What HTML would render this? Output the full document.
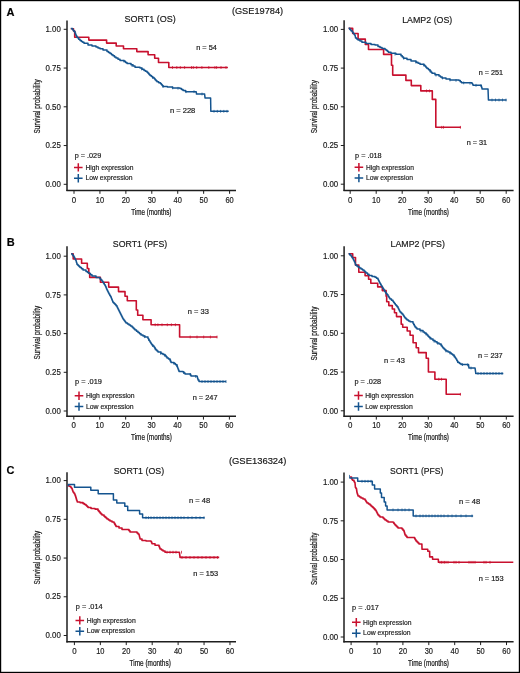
<!DOCTYPE html>
<html><head><meta charset="utf-8"><style>
html,body{margin:0;padding:0;background:#fff;}
body{width:520px;height:673px;overflow:hidden;}
svg{display:block;font-family:"Liberation Sans", sans-serif;will-change:transform;}
text{stroke:#1a1a1a;stroke-width:0.18px;}
.ax{stroke-width:0.24px;}
</style></head><body>
<svg width="520" height="673" viewBox="0 0 520 673">
<rect x="0" y="0" width="520" height="673" fill="#fff"/>
<text x="6.6" y="15.9" font-size="11" text-anchor="start" font-weight="bold" fill="#000">A</text>
<text x="6.8" y="245.8" font-size="11" text-anchor="start" font-weight="bold" fill="#000">B</text>
<text x="6.6" y="473.8" font-size="11" text-anchor="start" font-weight="bold" fill="#000">C</text>
<text x="231.9" y="13.9" font-size="9" text-anchor="start" font-weight="normal" fill="#1a1a1a" textLength="51.2" lengthAdjust="spacingAndGlyphs">(GSE19784)</text>
<text x="228.9" y="464.2" font-size="9" text-anchor="start" font-weight="normal" fill="#1a1a1a" textLength="57.6" lengthAdjust="spacingAndGlyphs">(GSE136324)</text>
<line x1="67" y1="20.6" x2="67" y2="191.1" stroke="#1e1e1e" stroke-width="1.5"/>
<line x1="66.4" y1="190.5" x2="236" y2="190.5" stroke="#1e1e1e" stroke-width="1.5"/>
<line x1="63.7" y1="29.3" x2="67" y2="29.3" stroke="#1e1e1e" stroke-width="1.0"/>
<text x="60.8" y="32.0" font-size="8.7" text-anchor="end" font-weight="normal" fill="#1a1a1a" textLength="15.3" lengthAdjust="spacingAndGlyphs">1.00</text>
<line x1="63.7" y1="68.05" x2="67" y2="68.05" stroke="#1e1e1e" stroke-width="1.0"/>
<text x="60.8" y="70.75" font-size="8.7" text-anchor="end" font-weight="normal" fill="#1a1a1a" textLength="15.3" lengthAdjust="spacingAndGlyphs">0.75</text>
<line x1="63.7" y1="106.8" x2="67" y2="106.8" stroke="#1e1e1e" stroke-width="1.0"/>
<text x="60.8" y="109.5" font-size="8.7" text-anchor="end" font-weight="normal" fill="#1a1a1a" textLength="15.3" lengthAdjust="spacingAndGlyphs">0.50</text>
<line x1="63.7" y1="145.55" x2="67" y2="145.55" stroke="#1e1e1e" stroke-width="1.0"/>
<text x="60.8" y="148.25" font-size="8.7" text-anchor="end" font-weight="normal" fill="#1a1a1a" textLength="15.3" lengthAdjust="spacingAndGlyphs">0.25</text>
<line x1="63.7" y1="184.3" x2="67" y2="184.3" stroke="#1e1e1e" stroke-width="1.0"/>
<text x="60.8" y="187.0" font-size="8.7" text-anchor="end" font-weight="normal" fill="#1a1a1a" textLength="15.3" lengthAdjust="spacingAndGlyphs">0.00</text>
<line x1="74.0" y1="190.5" x2="74.0" y2="193.8" stroke="#1e1e1e" stroke-width="1.0"/>
<text x="74.0" y="202.5" font-size="8.6" text-anchor="middle" font-weight="normal" fill="#1a1a1a" textLength="4.4" lengthAdjust="spacingAndGlyphs">0</text>
<line x1="99.93" y1="190.5" x2="99.93" y2="193.8" stroke="#1e1e1e" stroke-width="1.0"/>
<text x="99.93" y="202.5" font-size="8.6" text-anchor="middle" font-weight="normal" fill="#1a1a1a" textLength="8.3" lengthAdjust="spacingAndGlyphs">10</text>
<line x1="125.86" y1="190.5" x2="125.86" y2="193.8" stroke="#1e1e1e" stroke-width="1.0"/>
<text x="125.86" y="202.5" font-size="8.6" text-anchor="middle" font-weight="normal" fill="#1a1a1a" textLength="8.3" lengthAdjust="spacingAndGlyphs">20</text>
<line x1="151.79" y1="190.5" x2="151.79" y2="193.8" stroke="#1e1e1e" stroke-width="1.0"/>
<text x="151.79" y="202.5" font-size="8.6" text-anchor="middle" font-weight="normal" fill="#1a1a1a" textLength="8.3" lengthAdjust="spacingAndGlyphs">30</text>
<line x1="177.72" y1="190.5" x2="177.72" y2="193.8" stroke="#1e1e1e" stroke-width="1.0"/>
<text x="177.72" y="202.5" font-size="8.6" text-anchor="middle" font-weight="normal" fill="#1a1a1a" textLength="8.3" lengthAdjust="spacingAndGlyphs">40</text>
<line x1="203.65" y1="190.5" x2="203.65" y2="193.8" stroke="#1e1e1e" stroke-width="1.0"/>
<text x="203.65" y="202.5" font-size="8.6" text-anchor="middle" font-weight="normal" fill="#1a1a1a" textLength="8.3" lengthAdjust="spacingAndGlyphs">50</text>
<line x1="229.57999999999998" y1="190.5" x2="229.57999999999998" y2="193.8" stroke="#1e1e1e" stroke-width="1.0"/>
<text x="229.57999999999998" y="202.5" font-size="8.6" text-anchor="middle" font-weight="normal" fill="#1a1a1a" textLength="8.3" lengthAdjust="spacingAndGlyphs">60</text>
<text transform="translate(40.2 106.4) rotate(-90)" x="0" y="0" font-size="8.6" text-anchor="middle" fill="#1a1a1a" class="ax" textLength="54.2" lengthAdjust="spacingAndGlyphs">Survival probability</text>
<text x="131.2" y="214.6" font-size="8.5" text-anchor="start" font-weight="normal" fill="#1a1a1a" textLength="40.2" lengthAdjust="spacingAndGlyphs" class="ax">Time (months)</text>
<text x="124.4" y="22.3" font-size="9" text-anchor="start" font-weight="normal" fill="#1a1a1a" textLength="51.3" lengthAdjust="spacingAndGlyphs">SORT1 (OS)</text>
<text x="196.2" y="49.8" font-size="6.8" text-anchor="start" font-weight="normal" fill="#1a1a1a" textLength="20.7" lengthAdjust="spacingAndGlyphs">n = 54</text>
<text x="169.9" y="112.5" font-size="6.8" text-anchor="start" font-weight="normal" fill="#1a1a1a" textLength="25.4" lengthAdjust="spacingAndGlyphs">n = 228</text>
<path d="M74.00 167.40H82.60M78.30 163.20V171.60" stroke="#c8102e" stroke-width="1.5" fill="none"/>
<path d="M74.00 178.30H82.60M78.30 174.10V182.50" stroke="#14548f" stroke-width="1.5" fill="none"/>
<text x="85.5" y="169.65" font-size="7.6" text-anchor="start" font-weight="normal" fill="#1a1a1a" textLength="48.0" lengthAdjust="spacingAndGlyphs">High expression</text>
<text x="85.5" y="180.45000000000002" font-size="7.6" text-anchor="start" font-weight="normal" fill="#1a1a1a" textLength="47.1" lengthAdjust="spacingAndGlyphs">Low expression</text>
<text x="74.7" y="157.8" font-size="7.0" text-anchor="start" font-weight="normal" fill="#1a1a1a" textLength="26.5" lengthAdjust="spacingAndGlyphs">p = .029</text>
<polyline points="70.80,28.70 73.50,28.70 73.50,31.00 74.70,31.00 74.70,37.30 88.80,37.30 88.80,40.10 106.60,40.10 106.60,43.10 116.20,43.10 116.20,46.00 123.50,46.00 123.50,48.80 136.80,48.80 136.80,51.60 148.10,51.60 148.10,54.80 154.70,54.80 154.70,58.20 158.50,58.20 158.50,62.50 168.80,62.50 168.80,67.50 227.90,67.50" fill="none" stroke="#c8102e" stroke-width="1.6" stroke-linejoin="round"/>
<line x1="172.5" y1="66.1" x2="172.5" y2="68.9" stroke="#c8102e" stroke-width="0.75"/>
<line x1="176.8" y1="66.1" x2="176.8" y2="68.9" stroke="#c8102e" stroke-width="0.75"/>
<line x1="180.3" y1="66.1" x2="180.3" y2="68.9" stroke="#c8102e" stroke-width="0.75"/>
<line x1="184.6" y1="66.1" x2="184.6" y2="68.9" stroke="#c8102e" stroke-width="0.75"/>
<line x1="191.5" y1="66.1" x2="191.5" y2="68.9" stroke="#c8102e" stroke-width="0.75"/>
<line x1="193.3" y1="66.1" x2="193.3" y2="68.9" stroke="#c8102e" stroke-width="0.75"/>
<line x1="196.7" y1="66.1" x2="196.7" y2="68.9" stroke="#c8102e" stroke-width="0.75"/>
<line x1="201.9" y1="66.1" x2="201.9" y2="68.9" stroke="#c8102e" stroke-width="0.75"/>
<line x1="208.8" y1="66.1" x2="208.8" y2="68.9" stroke="#c8102e" stroke-width="0.75"/>
<line x1="214.9" y1="66.1" x2="214.9" y2="68.9" stroke="#c8102e" stroke-width="0.75"/>
<line x1="216.6" y1="66.1" x2="216.6" y2="68.9" stroke="#c8102e" stroke-width="0.75"/>
<line x1="221.0" y1="66.1" x2="221.0" y2="68.9" stroke="#c8102e" stroke-width="0.75"/>
<line x1="226.0" y1="66.1" x2="226.0" y2="68.9" stroke="#c8102e" stroke-width="0.75"/>
<polyline points="70.80,28.50 72.50,28.50 72.50,29.50 73.25,29.50 73.25,30.50 74.00,30.50 74.00,31.50 75.00,31.50 75.00,33.00 75.50,33.00 75.50,34.25 76.00,34.25 76.00,35.50 76.65,35.50 76.65,36.65 77.30,36.65 77.30,37.80 78.65,37.80 78.65,39.15 80.00,39.15 80.00,40.50 81.33,40.50 81.33,41.43 82.67,41.43 82.67,42.37 84.00,42.37 84.00,43.30 88.00,43.30 88.00,44.90 92.00,44.90 92.00,46.00 96.00,46.00 96.00,47.10 98.00,47.10 98.00,47.95 100.00,47.95 100.00,48.80 103.00,48.80 103.00,50.00 107.00,50.00 107.00,51.60 108.50,51.60 108.50,52.60 110.00,52.60 110.00,53.60 111.50,53.60 111.50,54.70 113.00,54.70 113.00,55.80 114.50,55.80 114.50,56.90 116.00,56.90 116.00,58.00 118.00,58.00 118.00,59.20 120.00,59.20 120.00,60.40 124.00,60.40 124.00,61.20 125.50,61.20 125.50,62.40 127.00,62.40 127.00,63.60 131.00,63.60 131.00,64.80 133.00,64.80 133.00,66.05 135.00,66.05 135.00,67.30 140.00,67.30 140.00,67.90 142.00,67.90 142.00,69.20 144.00,69.20 144.00,70.50 145.50,70.50 145.50,71.35 147.00,71.35 147.00,72.20 148.00,72.20 148.00,73.30 149.00,73.30 149.00,74.40 150.00,74.40 150.00,75.50 151.33,75.50 151.33,76.53 152.67,76.53 152.67,77.57 154.00,77.57 154.00,78.60 155.00,78.60 155.00,79.67 156.00,79.67 156.00,80.73 157.00,80.73 157.00,81.80 158.70,81.80 158.70,82.70 160.40,82.70 160.40,83.60 161.27,83.60 161.27,84.60 162.13,84.60 162.13,85.60 163.00,85.60 163.00,86.60 167.30,86.60 167.30,87.00 172.50,87.00 172.50,87.90 180.00,87.90 180.00,88.40 181.50,88.40 181.50,89.45 183.00,89.45 183.00,90.50 185.50,90.50 185.50,91.70 196.00,91.70 196.20,91.70 196.20,92.85 196.40,92.85 196.40,94.00 204.50,94.00 204.62,94.00 204.62,94.97 204.75,94.97 204.75,95.95 204.88,95.95 204.88,96.93 205.00,96.93 205.00,97.90 210.60,97.90 210.62,97.90 210.62,99.02 210.63,99.02 210.63,100.13 210.65,100.13 210.65,101.25 210.67,101.25 210.67,102.37 210.68,102.37 210.68,103.48 210.70,103.48 210.70,104.60 210.72,104.60 210.72,105.72 210.73,105.72 210.73,106.83 210.75,106.83 210.75,107.95 210.77,107.95 210.77,109.07 210.78,109.07 210.78,110.18 210.80,110.18 210.80,111.30 228.70,111.30" fill="none" stroke="#14548f" stroke-width="1.5" stroke-linejoin="round"/>
<line x1="124.0" y1="59.8" x2="124.0" y2="62.6" stroke="#14548f" stroke-width="0.75"/>
<line x1="132.0" y1="64.0" x2="132.0" y2="66.8" stroke="#14548f" stroke-width="0.75"/>
<line x1="141.7" y1="67.6" x2="141.7" y2="70.4" stroke="#14548f" stroke-width="0.75"/>
<line x1="152.5" y1="76.0" x2="152.5" y2="78.8" stroke="#14548f" stroke-width="0.75"/>
<line x1="163.0" y1="85.2" x2="163.0" y2="88.0" stroke="#14548f" stroke-width="0.75"/>
<line x1="172.7" y1="86.5" x2="172.7" y2="89.3" stroke="#14548f" stroke-width="0.75"/>
<line x1="178.0" y1="86.9" x2="178.0" y2="89.7" stroke="#14548f" stroke-width="0.75"/>
<line x1="186.0" y1="90.3" x2="186.0" y2="93.1" stroke="#14548f" stroke-width="0.75"/>
<line x1="194.0" y1="90.3" x2="194.0" y2="93.1" stroke="#14548f" stroke-width="0.75"/>
<line x1="202.0" y1="92.6" x2="202.0" y2="95.4" stroke="#14548f" stroke-width="0.75"/>
<line x1="214.0" y1="109.9" x2="214.0" y2="112.7" stroke="#14548f" stroke-width="0.75"/>
<line x1="217.3" y1="109.9" x2="217.3" y2="112.7" stroke="#14548f" stroke-width="0.75"/>
<line x1="220.6" y1="109.9" x2="220.6" y2="112.7" stroke="#14548f" stroke-width="0.75"/>
<line x1="223.8" y1="109.9" x2="223.8" y2="112.7" stroke="#14548f" stroke-width="0.75"/>
<line x1="227.0" y1="109.9" x2="227.0" y2="112.7" stroke="#14548f" stroke-width="0.75"/>
<line x1="344.1" y1="20.2" x2="344.1" y2="191.1" stroke="#1e1e1e" stroke-width="1.5"/>
<line x1="343.5" y1="190.5" x2="513.6" y2="190.5" stroke="#1e1e1e" stroke-width="1.5"/>
<line x1="340.8" y1="29.4" x2="344.1" y2="29.4" stroke="#1e1e1e" stroke-width="1.0"/>
<text x="338.2" y="32.1" font-size="8.7" text-anchor="end" font-weight="normal" fill="#1a1a1a" textLength="15.3" lengthAdjust="spacingAndGlyphs">1.00</text>
<line x1="340.8" y1="68.1" x2="344.1" y2="68.1" stroke="#1e1e1e" stroke-width="1.0"/>
<text x="338.2" y="70.8" font-size="8.7" text-anchor="end" font-weight="normal" fill="#1a1a1a" textLength="15.3" lengthAdjust="spacingAndGlyphs">0.75</text>
<line x1="340.8" y1="106.79999999999998" x2="344.1" y2="106.79999999999998" stroke="#1e1e1e" stroke-width="1.0"/>
<text x="338.2" y="109.49999999999999" font-size="8.7" text-anchor="end" font-weight="normal" fill="#1a1a1a" textLength="15.3" lengthAdjust="spacingAndGlyphs">0.50</text>
<line x1="340.8" y1="145.5" x2="344.1" y2="145.5" stroke="#1e1e1e" stroke-width="1.0"/>
<text x="338.2" y="148.2" font-size="8.7" text-anchor="end" font-weight="normal" fill="#1a1a1a" textLength="15.3" lengthAdjust="spacingAndGlyphs">0.25</text>
<line x1="340.8" y1="184.2" x2="344.1" y2="184.2" stroke="#1e1e1e" stroke-width="1.0"/>
<text x="338.2" y="186.89999999999998" font-size="8.7" text-anchor="end" font-weight="normal" fill="#1a1a1a" textLength="15.3" lengthAdjust="spacingAndGlyphs">0.00</text>
<line x1="350.2" y1="190.5" x2="350.2" y2="193.8" stroke="#1e1e1e" stroke-width="1.0"/>
<text x="350.2" y="202.5" font-size="8.6" text-anchor="middle" font-weight="normal" fill="#1a1a1a" textLength="4.4" lengthAdjust="spacingAndGlyphs">0</text>
<line x1="376.2" y1="190.5" x2="376.2" y2="193.8" stroke="#1e1e1e" stroke-width="1.0"/>
<text x="376.2" y="202.5" font-size="8.6" text-anchor="middle" font-weight="normal" fill="#1a1a1a" textLength="8.3" lengthAdjust="spacingAndGlyphs">10</text>
<line x1="402.2" y1="190.5" x2="402.2" y2="193.8" stroke="#1e1e1e" stroke-width="1.0"/>
<text x="402.2" y="202.5" font-size="8.6" text-anchor="middle" font-weight="normal" fill="#1a1a1a" textLength="8.3" lengthAdjust="spacingAndGlyphs">20</text>
<line x1="428.2" y1="190.5" x2="428.2" y2="193.8" stroke="#1e1e1e" stroke-width="1.0"/>
<text x="428.2" y="202.5" font-size="8.6" text-anchor="middle" font-weight="normal" fill="#1a1a1a" textLength="8.3" lengthAdjust="spacingAndGlyphs">30</text>
<line x1="454.2" y1="190.5" x2="454.2" y2="193.8" stroke="#1e1e1e" stroke-width="1.0"/>
<text x="454.2" y="202.5" font-size="8.6" text-anchor="middle" font-weight="normal" fill="#1a1a1a" textLength="8.3" lengthAdjust="spacingAndGlyphs">40</text>
<line x1="480.2" y1="190.5" x2="480.2" y2="193.8" stroke="#1e1e1e" stroke-width="1.0"/>
<text x="480.2" y="202.5" font-size="8.6" text-anchor="middle" font-weight="normal" fill="#1a1a1a" textLength="8.3" lengthAdjust="spacingAndGlyphs">50</text>
<line x1="506.2" y1="190.5" x2="506.2" y2="193.8" stroke="#1e1e1e" stroke-width="1.0"/>
<text x="506.2" y="202.5" font-size="8.6" text-anchor="middle" font-weight="normal" fill="#1a1a1a" textLength="8.3" lengthAdjust="spacingAndGlyphs">60</text>
<text transform="translate(317.2 106.64999999999999) rotate(-90)" x="0" y="0" font-size="8.6" text-anchor="middle" fill="#1a1a1a" class="ax" textLength="53.1" lengthAdjust="spacingAndGlyphs">Survival probability</text>
<text x="408.1" y="214.6" font-size="8.5" text-anchor="start" font-weight="normal" fill="#1a1a1a" textLength="40.9" lengthAdjust="spacingAndGlyphs" class="ax">Time (months)</text>
<text x="402.2" y="23.0" font-size="9" text-anchor="start" font-weight="normal" fill="#1a1a1a" textLength="50.1" lengthAdjust="spacingAndGlyphs">LAMP2 (OS)</text>
<text x="478.8" y="74.7" font-size="6.8" text-anchor="start" font-weight="normal" fill="#1a1a1a" textLength="24.3" lengthAdjust="spacingAndGlyphs">n = 251</text>
<text x="466.7" y="144.7" font-size="6.8" text-anchor="start" font-weight="normal" fill="#1a1a1a" textLength="20.5" lengthAdjust="spacingAndGlyphs">n = 31</text>
<path d="M354.60 167.30H363.20M358.90 163.10V171.50" stroke="#c8102e" stroke-width="1.5" fill="none"/>
<path d="M354.60 178.10H363.20M358.90 173.90V182.30" stroke="#14548f" stroke-width="1.5" fill="none"/>
<text x="365.9" y="169.55" font-size="7.6" text-anchor="start" font-weight="normal" fill="#1a1a1a" textLength="48.0" lengthAdjust="spacingAndGlyphs">High expression</text>
<text x="365.9" y="180.25" font-size="7.6" text-anchor="start" font-weight="normal" fill="#1a1a1a" textLength="47.1" lengthAdjust="spacingAndGlyphs">Low expression</text>
<text x="355.1" y="157.8" font-size="7.0" text-anchor="start" font-weight="normal" fill="#1a1a1a" textLength="26.5" lengthAdjust="spacingAndGlyphs">p = .018</text>
<polyline points="348.60,28.40 352.70,28.40 352.70,33.50 358.10,33.50 358.10,39.10 365.30,39.10 365.30,44.50 368.50,44.50 368.50,49.50 383.60,49.50 383.60,54.40 391.50,54.40 391.50,65.20 392.70,65.20 392.70,75.10 405.90,75.10 405.90,80.40 411.30,80.40 411.30,85.60 420.80,85.60 420.80,90.90 432.30,90.90 432.30,99.40 435.80,99.40 435.80,127.30 460.80,127.30" fill="none" stroke="#c8102e" stroke-width="1.6" stroke-linejoin="round"/>
<line x1="441.7" y1="125.9" x2="441.7" y2="128.7" stroke="#c8102e" stroke-width="0.75"/>
<line x1="443.5" y1="125.9" x2="443.5" y2="128.7" stroke="#c8102e" stroke-width="0.75"/>
<line x1="460.4" y1="125.9" x2="460.4" y2="128.7" stroke="#c8102e" stroke-width="0.75"/>
<line x1="426.5" y1="89.5" x2="426.5" y2="92.3" stroke="#c8102e" stroke-width="0.75"/>
<line x1="429.5" y1="89.5" x2="429.5" y2="92.3" stroke="#c8102e" stroke-width="0.75"/>
<polyline points="348.60,28.30 349.77,28.30 349.77,29.47 350.93,29.47 350.93,30.63 352.10,30.63 352.10,31.80 352.83,31.80 352.83,32.80 353.55,32.80 353.55,33.80 354.27,33.80 354.27,34.80 355.00,34.80 355.00,35.80 355.25,35.80 355.25,36.90 355.50,36.90 355.50,38.00 356.75,38.00 356.75,39.00 358.00,39.00 358.00,40.00 359.95,40.00 359.95,41.10 361.90,41.10 361.90,42.20 366.00,42.20 366.00,43.60 371.00,43.60 371.00,44.50 375.00,44.50 375.00,45.00 378.00,45.00 378.00,46.40 380.00,46.40 380.00,47.40 382.00,47.40 382.00,48.40 385.00,48.40 385.00,49.40 386.13,49.40 386.13,50.33 387.27,50.33 387.27,51.27 388.40,51.27 388.40,52.20 391.00,52.20 391.00,53.20 395.90,53.20 395.90,54.30 401.00,54.30 401.00,55.70 402.25,55.70 402.25,56.95 403.50,56.95 403.50,58.20 407.00,58.20 407.00,59.60 411.00,59.60 411.00,61.10 416.00,61.10 416.00,62.30 418.00,62.30 418.00,63.30 420.00,63.30 420.00,64.30 424.00,64.30 424.00,65.20 425.00,65.20 425.00,66.30 426.00,66.30 426.00,67.40 427.00,67.40 427.00,68.50 428.50,68.50 428.50,69.75 430.00,69.75 430.00,71.00 431.00,71.00 431.00,72.15 432.00,72.15 432.00,73.30 435.00,73.30 435.00,74.80 439.00,74.80 439.00,76.00 440.50,76.00 440.50,76.95 442.00,76.95 442.00,77.90 446.00,77.90 446.00,79.00 450.00,79.00 450.00,80.00 459.00,80.00 459.00,80.60 460.25,80.60 460.25,81.70 461.50,81.70 461.50,82.80 472.00,82.80 472.00,83.40 472.50,83.40 472.50,84.30 473.00,84.30 473.00,85.20 481.00,85.20 481.00,85.60 481.33,85.60 481.33,86.73 481.67,86.73 481.67,87.87 482.00,87.87 482.00,89.00 488.00,89.00 488.04,89.00 488.04,90.10 488.08,90.10 488.08,91.20 488.12,91.20 488.12,92.30 488.16,92.30 488.16,93.40 488.20,93.40 488.20,94.50 488.24,94.50 488.24,95.60 488.28,95.60 488.28,96.70 488.32,96.70 488.32,97.80 488.36,97.80 488.36,98.90 488.40,98.90 488.40,100.00 506.50,100.00" fill="none" stroke="#14548f" stroke-width="1.5" stroke-linejoin="round"/>
<line x1="395.0" y1="52.7" x2="395.0" y2="55.5" stroke="#14548f" stroke-width="0.75"/>
<line x1="403.7" y1="56.9" x2="403.7" y2="59.7" stroke="#14548f" stroke-width="0.75"/>
<line x1="416.0" y1="60.9" x2="416.0" y2="63.7" stroke="#14548f" stroke-width="0.75"/>
<line x1="423.7" y1="63.7" x2="423.7" y2="66.5" stroke="#14548f" stroke-width="0.75"/>
<line x1="430.0" y1="69.6" x2="430.0" y2="72.4" stroke="#14548f" stroke-width="0.75"/>
<line x1="436.0" y1="73.7" x2="436.0" y2="76.5" stroke="#14548f" stroke-width="0.75"/>
<line x1="442.5" y1="76.6" x2="442.5" y2="79.4" stroke="#14548f" stroke-width="0.75"/>
<line x1="450.0" y1="78.6" x2="450.0" y2="81.4" stroke="#14548f" stroke-width="0.75"/>
<line x1="456.0" y1="79.0" x2="456.0" y2="81.8" stroke="#14548f" stroke-width="0.75"/>
<line x1="463.7" y1="81.5" x2="463.7" y2="84.3" stroke="#14548f" stroke-width="0.75"/>
<line x1="470.0" y1="81.9" x2="470.0" y2="84.7" stroke="#14548f" stroke-width="0.75"/>
<line x1="476.0" y1="83.9" x2="476.0" y2="86.8" stroke="#14548f" stroke-width="0.75"/>
<line x1="481.0" y1="84.2" x2="481.0" y2="87.0" stroke="#14548f" stroke-width="0.75"/>
<line x1="492.0" y1="98.6" x2="492.0" y2="101.4" stroke="#14548f" stroke-width="0.75"/>
<line x1="495.5" y1="98.6" x2="495.5" y2="101.4" stroke="#14548f" stroke-width="0.75"/>
<line x1="499.0" y1="98.6" x2="499.0" y2="101.4" stroke="#14548f" stroke-width="0.75"/>
<line x1="502.5" y1="98.6" x2="502.5" y2="101.4" stroke="#14548f" stroke-width="0.75"/>
<line x1="506.0" y1="98.6" x2="506.0" y2="101.4" stroke="#14548f" stroke-width="0.75"/>
<line x1="67" y1="246.3" x2="67" y2="416.90000000000003" stroke="#1e1e1e" stroke-width="1.5"/>
<line x1="66.4" y1="416.3" x2="236" y2="416.3" stroke="#1e1e1e" stroke-width="1.5"/>
<line x1="63.7" y1="256.2" x2="67" y2="256.2" stroke="#1e1e1e" stroke-width="1.0"/>
<text x="60.8" y="258.9" font-size="8.7" text-anchor="end" font-weight="normal" fill="#1a1a1a" textLength="15.3" lengthAdjust="spacingAndGlyphs">1.00</text>
<line x1="63.7" y1="294.9" x2="67" y2="294.9" stroke="#1e1e1e" stroke-width="1.0"/>
<text x="60.8" y="297.59999999999997" font-size="8.7" text-anchor="end" font-weight="normal" fill="#1a1a1a" textLength="15.3" lengthAdjust="spacingAndGlyphs">0.75</text>
<line x1="63.7" y1="333.6" x2="67" y2="333.6" stroke="#1e1e1e" stroke-width="1.0"/>
<text x="60.8" y="336.3" font-size="8.7" text-anchor="end" font-weight="normal" fill="#1a1a1a" textLength="15.3" lengthAdjust="spacingAndGlyphs">0.50</text>
<line x1="63.7" y1="372.3" x2="67" y2="372.3" stroke="#1e1e1e" stroke-width="1.0"/>
<text x="60.8" y="375.0" font-size="8.7" text-anchor="end" font-weight="normal" fill="#1a1a1a" textLength="15.3" lengthAdjust="spacingAndGlyphs">0.25</text>
<line x1="63.7" y1="411.0" x2="67" y2="411.0" stroke="#1e1e1e" stroke-width="1.0"/>
<text x="60.8" y="413.7" font-size="8.7" text-anchor="end" font-weight="normal" fill="#1a1a1a" textLength="15.3" lengthAdjust="spacingAndGlyphs">0.00</text>
<line x1="73.8" y1="416.3" x2="73.8" y2="419.6" stroke="#1e1e1e" stroke-width="1.0"/>
<text x="73.8" y="428.3" font-size="8.6" text-anchor="middle" font-weight="normal" fill="#1a1a1a" textLength="4.4" lengthAdjust="spacingAndGlyphs">0</text>
<line x1="99.72999999999999" y1="416.3" x2="99.72999999999999" y2="419.6" stroke="#1e1e1e" stroke-width="1.0"/>
<text x="99.72999999999999" y="428.3" font-size="8.6" text-anchor="middle" font-weight="normal" fill="#1a1a1a" textLength="8.3" lengthAdjust="spacingAndGlyphs">10</text>
<line x1="125.66" y1="416.3" x2="125.66" y2="419.6" stroke="#1e1e1e" stroke-width="1.0"/>
<text x="125.66" y="428.3" font-size="8.6" text-anchor="middle" font-weight="normal" fill="#1a1a1a" textLength="8.3" lengthAdjust="spacingAndGlyphs">20</text>
<line x1="151.58999999999997" y1="416.3" x2="151.58999999999997" y2="419.6" stroke="#1e1e1e" stroke-width="1.0"/>
<text x="151.58999999999997" y="428.3" font-size="8.6" text-anchor="middle" font-weight="normal" fill="#1a1a1a" textLength="8.3" lengthAdjust="spacingAndGlyphs">30</text>
<line x1="177.51999999999998" y1="416.3" x2="177.51999999999998" y2="419.6" stroke="#1e1e1e" stroke-width="1.0"/>
<text x="177.51999999999998" y="428.3" font-size="8.6" text-anchor="middle" font-weight="normal" fill="#1a1a1a" textLength="8.3" lengthAdjust="spacingAndGlyphs">40</text>
<line x1="203.45" y1="416.3" x2="203.45" y2="419.6" stroke="#1e1e1e" stroke-width="1.0"/>
<text x="203.45" y="428.3" font-size="8.6" text-anchor="middle" font-weight="normal" fill="#1a1a1a" textLength="8.3" lengthAdjust="spacingAndGlyphs">50</text>
<line x1="229.38" y1="416.3" x2="229.38" y2="419.6" stroke="#1e1e1e" stroke-width="1.0"/>
<text x="229.38" y="428.3" font-size="8.6" text-anchor="middle" font-weight="normal" fill="#1a1a1a" textLength="8.3" lengthAdjust="spacingAndGlyphs">60</text>
<text transform="translate(40.2 332.65) rotate(-90)" x="0" y="0" font-size="8.6" text-anchor="middle" fill="#1a1a1a" class="ax" textLength="53.7" lengthAdjust="spacingAndGlyphs">Survival probability</text>
<text x="131.0" y="440.0" font-size="8.5" text-anchor="start" font-weight="normal" fill="#1a1a1a" textLength="40.9" lengthAdjust="spacingAndGlyphs" class="ax">Time (months)</text>
<text x="112.8" y="246.5" font-size="9" text-anchor="start" font-weight="normal" fill="#1a1a1a" textLength="54.4" lengthAdjust="spacingAndGlyphs">SORT1 (PFS)</text>
<text x="187.8" y="314.1" font-size="6.8" text-anchor="start" font-weight="normal" fill="#1a1a1a" textLength="21.0" lengthAdjust="spacingAndGlyphs">n = 33</text>
<text x="192.7" y="400.2" font-size="6.8" text-anchor="start" font-weight="normal" fill="#1a1a1a" textLength="24.8" lengthAdjust="spacingAndGlyphs">n = 247</text>
<path d="M74.70 395.80H83.30M79.00 391.60V400.00" stroke="#c8102e" stroke-width="1.5" fill="none"/>
<path d="M74.70 406.60H83.30M79.00 402.40V410.80" stroke="#14548f" stroke-width="1.5" fill="none"/>
<text x="85.9" y="398.05" font-size="7.6" text-anchor="start" font-weight="normal" fill="#1a1a1a" textLength="48.7" lengthAdjust="spacingAndGlyphs">High expression</text>
<text x="85.9" y="408.75" font-size="7.6" text-anchor="start" font-weight="normal" fill="#1a1a1a" textLength="47.8" lengthAdjust="spacingAndGlyphs">Low expression</text>
<text x="75.0" y="383.9" font-size="7.0" text-anchor="start" font-weight="normal" fill="#1a1a1a" textLength="26.9" lengthAdjust="spacingAndGlyphs">p = .019</text>
<polyline points="71.20,253.80 73.20,253.80 73.20,259.00 81.60,259.00 81.60,263.20 87.30,263.20 87.30,268.50 88.80,268.50 88.80,273.20 89.70,273.20 89.70,277.40 100.40,277.40 100.40,282.30 108.70,282.30 108.70,287.10 118.50,287.10 118.50,291.60 125.00,291.60 125.00,296.30 127.30,296.30 127.30,300.80 136.30,300.80 136.30,310.00 137.70,310.00 137.70,315.20 142.90,315.20 142.90,319.80 151.10,319.80 151.10,324.80 179.60,324.80 179.60,337.00 217.20,337.00" fill="none" stroke="#c8102e" stroke-width="1.6" stroke-linejoin="round"/>
<line x1="155.2" y1="323.4" x2="155.2" y2="326.2" stroke="#c8102e" stroke-width="0.75"/>
<line x1="157.9" y1="323.4" x2="157.9" y2="326.2" stroke="#c8102e" stroke-width="0.75"/>
<line x1="162.0" y1="323.4" x2="162.0" y2="326.2" stroke="#c8102e" stroke-width="0.75"/>
<line x1="167.3" y1="323.4" x2="167.3" y2="326.2" stroke="#c8102e" stroke-width="0.75"/>
<line x1="171.4" y1="323.4" x2="171.4" y2="326.2" stroke="#c8102e" stroke-width="0.75"/>
<line x1="175.4" y1="323.4" x2="175.4" y2="326.2" stroke="#c8102e" stroke-width="0.75"/>
<line x1="190.2" y1="335.6" x2="190.2" y2="338.4" stroke="#c8102e" stroke-width="0.75"/>
<line x1="197.0" y1="335.6" x2="197.0" y2="338.4" stroke="#c8102e" stroke-width="0.75"/>
<line x1="203.7" y1="335.6" x2="203.7" y2="338.4" stroke="#c8102e" stroke-width="0.75"/>
<line x1="210.4" y1="335.6" x2="210.4" y2="338.4" stroke="#c8102e" stroke-width="0.75"/>
<line x1="217.0" y1="335.6" x2="217.0" y2="338.4" stroke="#c8102e" stroke-width="0.75"/>
<polyline points="71.20,253.80 72.13,253.80 72.13,254.87 73.07,254.87 73.07,255.93 74.00,255.93 74.00,257.00 74.50,257.00 74.50,258.00 75.00,258.00 75.00,259.00 75.50,259.00 75.50,260.00 76.00,260.00 76.00,261.00 76.33,261.00 76.33,262.17 76.67,262.17 76.67,263.33 77.00,263.33 77.00,264.50 78.00,264.50 78.00,265.50 79.00,265.50 79.00,266.50 80.00,266.50 80.00,267.50 81.50,267.50 81.50,268.75 83.00,268.75 83.00,270.00 86.00,270.00 86.00,271.50 87.50,271.50 87.50,272.50 89.00,272.50 89.00,273.50 90.50,273.50 90.50,274.75 92.00,274.75 92.00,276.00 96.00,276.00 96.00,277.50 100.00,277.50 100.00,279.00 101.00,279.00 101.00,280.00 102.00,280.00 102.00,281.00 102.75,281.00 102.75,282.12 103.50,282.12 103.50,283.25 104.25,283.25 104.25,284.38 105.00,284.38 105.00,285.50 105.50,285.50 105.50,286.62 106.00,286.62 106.00,287.75 106.50,287.75 106.50,288.88 107.00,288.88 107.00,290.00 107.50,290.00 107.50,291.00 108.00,291.00 108.00,292.00 108.50,292.00 108.50,293.00 109.00,293.00 109.00,294.00 109.67,294.00 109.67,295.17 110.33,295.17 110.33,296.33 111.00,296.33 111.00,297.50 111.40,297.50 111.40,298.50 111.80,298.50 111.80,299.50 112.20,299.50 112.20,300.50 112.60,300.50 112.60,301.50 113.00,301.50 113.00,302.50 114.00,302.50 114.00,303.50 115.00,303.50 115.00,304.50 116.00,304.50 116.00,305.75 117.00,305.75 117.00,307.00 117.50,307.00 117.50,308.00 118.00,308.00 118.00,309.00 118.50,309.00 118.50,310.00 119.00,310.00 119.00,311.00 119.50,311.00 119.50,312.00 120.00,312.00 120.00,313.00 120.50,313.00 120.50,314.00 121.00,314.00 121.00,315.00 121.50,315.00 121.50,316.00 122.00,316.00 122.00,317.00 122.50,317.00 122.50,318.00 123.00,318.00 123.00,319.00 123.75,319.00 123.75,320.00 124.50,320.00 124.50,321.00 125.25,321.00 125.25,322.00 126.00,322.00 126.00,323.00 127.50,323.00 127.50,324.00 129.00,324.00 129.00,325.00 130.50,325.00 130.50,326.00 132.00,326.00 132.00,327.00 133.00,327.00 133.00,328.00 134.00,328.00 134.00,329.00 135.00,329.00 135.00,330.00 136.50,330.00 136.50,331.25 138.00,331.25 138.00,332.50 139.50,332.50 139.50,333.75 141.00,333.75 141.00,335.00 143.00,335.00 143.00,336.00 145.00,336.00 145.00,337.00 148.00,337.00 148.00,338.50 148.67,338.50 148.67,339.67 149.33,339.67 149.33,340.83 150.00,340.83 150.00,342.00 150.67,342.00 150.67,343.00 151.33,343.00 151.33,344.00 152.00,344.00 152.00,345.00 153.00,345.00 153.00,346.00 154.00,346.00 154.00,347.00 154.67,347.00 154.67,348.00 155.33,348.00 155.33,349.00 156.00,349.00 156.00,350.00 157.00,350.00 157.00,351.00 158.00,351.00 158.00,352.00 161.00,352.00 161.00,353.50 163.00,353.50 163.00,354.50 165.00,354.50 165.00,355.50 166.00,355.50 166.00,356.75 167.00,356.75 167.00,358.00 168.50,358.00 168.50,359.00 170.00,359.00 170.00,360.00 170.50,360.00 170.50,361.25 171.00,361.25 171.00,362.50 174.00,362.50 174.00,363.50 175.50,363.50 175.50,364.75 177.00,364.75 177.00,366.00 177.33,366.00 177.33,367.00 177.67,367.00 177.67,368.00 178.00,368.00 178.00,369.00 178.50,369.00 178.50,370.25 179.00,370.25 179.00,371.50 183.00,371.50 183.00,372.00 184.00,372.00 184.00,373.00 185.00,373.00 185.00,374.00 190.00,374.00 190.50,374.00 190.50,375.00 191.00,375.00 191.00,376.00 197.00,376.00 197.00,376.50 197.33,376.50 197.33,377.67 197.67,377.67 197.67,378.83 198.00,378.83 198.00,380.00 199.00,380.00 199.00,381.60 226.00,381.60" fill="none" stroke="#14548f" stroke-width="1.5" stroke-linejoin="round"/>
<line x1="144.4" y1="335.3" x2="144.4" y2="338.1" stroke="#14548f" stroke-width="0.75"/>
<line x1="148.5" y1="338.0" x2="148.5" y2="340.8" stroke="#14548f" stroke-width="0.75"/>
<line x1="152.5" y1="344.1" x2="152.5" y2="346.9" stroke="#14548f" stroke-width="0.75"/>
<line x1="155.2" y1="347.4" x2="155.2" y2="350.2" stroke="#14548f" stroke-width="0.75"/>
<line x1="160.6" y1="351.9" x2="160.6" y2="354.7" stroke="#14548f" stroke-width="0.75"/>
<line x1="164.6" y1="353.9" x2="164.6" y2="356.7" stroke="#14548f" stroke-width="0.75"/>
<line x1="170.0" y1="358.6" x2="170.0" y2="361.4" stroke="#14548f" stroke-width="0.75"/>
<line x1="174.0" y1="362.1" x2="174.0" y2="364.9" stroke="#14548f" stroke-width="0.75"/>
<line x1="176.7" y1="364.4" x2="176.7" y2="367.1" stroke="#14548f" stroke-width="0.75"/>
<line x1="183.5" y1="371.1" x2="183.5" y2="373.9" stroke="#14548f" stroke-width="0.75"/>
<line x1="190.2" y1="373.0" x2="190.2" y2="375.8" stroke="#14548f" stroke-width="0.75"/>
<line x1="195.6" y1="375.0" x2="195.6" y2="377.8" stroke="#14548f" stroke-width="0.75"/>
<line x1="202.0" y1="380.2" x2="202.0" y2="383.0" stroke="#14548f" stroke-width="0.75"/>
<line x1="205.0" y1="380.2" x2="205.0" y2="383.0" stroke="#14548f" stroke-width="0.75"/>
<line x1="208.0" y1="380.2" x2="208.0" y2="383.0" stroke="#14548f" stroke-width="0.75"/>
<line x1="211.0" y1="380.2" x2="211.0" y2="383.0" stroke="#14548f" stroke-width="0.75"/>
<line x1="214.0" y1="380.2" x2="214.0" y2="383.0" stroke="#14548f" stroke-width="0.75"/>
<line x1="217.0" y1="380.2" x2="217.0" y2="383.0" stroke="#14548f" stroke-width="0.75"/>
<line x1="220.0" y1="380.2" x2="220.0" y2="383.0" stroke="#14548f" stroke-width="0.75"/>
<line x1="223.0" y1="380.2" x2="223.0" y2="383.0" stroke="#14548f" stroke-width="0.75"/>
<line x1="226.0" y1="380.2" x2="226.0" y2="383.0" stroke="#14548f" stroke-width="0.75"/>
<line x1="344.1" y1="246.3" x2="344.1" y2="416.90000000000003" stroke="#1e1e1e" stroke-width="1.5"/>
<line x1="343.5" y1="416.3" x2="513.6" y2="416.3" stroke="#1e1e1e" stroke-width="1.5"/>
<line x1="340.8" y1="255.8" x2="344.1" y2="255.8" stroke="#1e1e1e" stroke-width="1.0"/>
<text x="338.2" y="258.5" font-size="8.7" text-anchor="end" font-weight="normal" fill="#1a1a1a" textLength="15.3" lengthAdjust="spacingAndGlyphs">1.00</text>
<line x1="340.8" y1="294.55" x2="344.1" y2="294.55" stroke="#1e1e1e" stroke-width="1.0"/>
<text x="338.2" y="297.25" font-size="8.7" text-anchor="end" font-weight="normal" fill="#1a1a1a" textLength="15.3" lengthAdjust="spacingAndGlyphs">0.75</text>
<line x1="340.8" y1="333.3" x2="344.1" y2="333.3" stroke="#1e1e1e" stroke-width="1.0"/>
<text x="338.2" y="336.0" font-size="8.7" text-anchor="end" font-weight="normal" fill="#1a1a1a" textLength="15.3" lengthAdjust="spacingAndGlyphs">0.50</text>
<line x1="340.8" y1="372.05" x2="344.1" y2="372.05" stroke="#1e1e1e" stroke-width="1.0"/>
<text x="338.2" y="374.75" font-size="8.7" text-anchor="end" font-weight="normal" fill="#1a1a1a" textLength="15.3" lengthAdjust="spacingAndGlyphs">0.25</text>
<line x1="340.8" y1="410.8" x2="344.1" y2="410.8" stroke="#1e1e1e" stroke-width="1.0"/>
<text x="338.2" y="413.5" font-size="8.7" text-anchor="end" font-weight="normal" fill="#1a1a1a" textLength="15.3" lengthAdjust="spacingAndGlyphs">0.00</text>
<line x1="350.3" y1="416.3" x2="350.3" y2="419.6" stroke="#1e1e1e" stroke-width="1.0"/>
<text x="350.3" y="428.3" font-size="8.6" text-anchor="middle" font-weight="normal" fill="#1a1a1a" textLength="4.4" lengthAdjust="spacingAndGlyphs">0</text>
<line x1="376.3" y1="416.3" x2="376.3" y2="419.6" stroke="#1e1e1e" stroke-width="1.0"/>
<text x="376.3" y="428.3" font-size="8.6" text-anchor="middle" font-weight="normal" fill="#1a1a1a" textLength="8.3" lengthAdjust="spacingAndGlyphs">10</text>
<line x1="402.3" y1="416.3" x2="402.3" y2="419.6" stroke="#1e1e1e" stroke-width="1.0"/>
<text x="402.3" y="428.3" font-size="8.6" text-anchor="middle" font-weight="normal" fill="#1a1a1a" textLength="8.3" lengthAdjust="spacingAndGlyphs">20</text>
<line x1="428.3" y1="416.3" x2="428.3" y2="419.6" stroke="#1e1e1e" stroke-width="1.0"/>
<text x="428.3" y="428.3" font-size="8.6" text-anchor="middle" font-weight="normal" fill="#1a1a1a" textLength="8.3" lengthAdjust="spacingAndGlyphs">30</text>
<line x1="454.3" y1="416.3" x2="454.3" y2="419.6" stroke="#1e1e1e" stroke-width="1.0"/>
<text x="454.3" y="428.3" font-size="8.6" text-anchor="middle" font-weight="normal" fill="#1a1a1a" textLength="8.3" lengthAdjust="spacingAndGlyphs">40</text>
<line x1="480.3" y1="416.3" x2="480.3" y2="419.6" stroke="#1e1e1e" stroke-width="1.0"/>
<text x="480.3" y="428.3" font-size="8.6" text-anchor="middle" font-weight="normal" fill="#1a1a1a" textLength="8.3" lengthAdjust="spacingAndGlyphs">50</text>
<line x1="506.3" y1="416.3" x2="506.3" y2="419.6" stroke="#1e1e1e" stroke-width="1.0"/>
<text x="506.3" y="428.3" font-size="8.6" text-anchor="middle" font-weight="normal" fill="#1a1a1a" textLength="8.3" lengthAdjust="spacingAndGlyphs">60</text>
<text transform="translate(317.2 333.5) rotate(-90)" x="0" y="0" font-size="8.6" text-anchor="middle" fill="#1a1a1a" class="ax" textLength="54.0" lengthAdjust="spacingAndGlyphs">Survival probability</text>
<text x="408.1" y="440.0" font-size="8.5" text-anchor="start" font-weight="normal" fill="#1a1a1a" textLength="40.9" lengthAdjust="spacingAndGlyphs" class="ax">Time (months)</text>
<text x="390.5" y="246.6" font-size="9" text-anchor="start" font-weight="normal" fill="#1a1a1a" textLength="54.4" lengthAdjust="spacingAndGlyphs">LAMP2 (PFS)</text>
<text x="384.0" y="362.8" font-size="6.8" text-anchor="start" font-weight="normal" fill="#1a1a1a" textLength="20.9" lengthAdjust="spacingAndGlyphs">n = 43</text>
<text x="477.9" y="358.0" font-size="6.8" text-anchor="start" font-weight="normal" fill="#1a1a1a" textLength="24.8" lengthAdjust="spacingAndGlyphs">n = 237</text>
<path d="M354.20 395.50H362.80M358.50 391.30V399.70" stroke="#c8102e" stroke-width="1.5" fill="none"/>
<path d="M354.20 406.50H362.80M358.50 402.30V410.70" stroke="#14548f" stroke-width="1.5" fill="none"/>
<text x="365.2" y="397.75" font-size="7.6" text-anchor="start" font-weight="normal" fill="#1a1a1a" textLength="48.4" lengthAdjust="spacingAndGlyphs">High expression</text>
<text x="365.2" y="408.65" font-size="7.6" text-anchor="start" font-weight="normal" fill="#1a1a1a" textLength="47.5" lengthAdjust="spacingAndGlyphs">Low expression</text>
<text x="354.4" y="383.9" font-size="7.0" text-anchor="start" font-weight="normal" fill="#1a1a1a" textLength="26.7" lengthAdjust="spacingAndGlyphs">p = .028</text>
<polyline points="348.60,253.80 352.70,253.80 352.70,257.50 355.50,257.50 355.50,265.10 358.80,265.10 358.80,272.20 365.10,272.20 365.10,275.70 368.60,275.70 368.60,279.20 370.80,279.20 370.80,283.20 377.70,283.20 377.70,286.90 382.30,286.90 382.30,290.60 386.10,290.60 386.10,296.30 386.70,296.30 386.70,301.80 388.80,301.80 388.80,305.60 392.30,305.60 392.30,309.00 394.50,309.00 394.50,312.80 396.50,312.80 396.50,316.60 401.20,316.60 401.20,324.20 402.70,324.20 402.70,327.20 407.20,327.20 407.20,331.00 410.10,331.00 410.10,335.20 413.10,335.20 413.10,342.80 416.20,342.80 416.20,347.70 418.50,347.70 418.50,352.60 426.20,352.60 426.20,358.30 428.40,358.30 428.40,372.00 434.90,372.00 434.90,379.20 446.20,379.20 446.20,394.30 460.80,394.30" fill="none" stroke="#c8102e" stroke-width="1.6" stroke-linejoin="round"/>
<line x1="438.8" y1="377.8" x2="438.8" y2="380.6" stroke="#c8102e" stroke-width="0.75"/>
<line x1="441.5" y1="377.8" x2="441.5" y2="380.6" stroke="#c8102e" stroke-width="0.75"/>
<line x1="460.4" y1="392.9" x2="460.4" y2="395.7" stroke="#c8102e" stroke-width="0.75"/>
<polyline points="348.60,253.80 349.80,253.80 349.80,254.90 351.00,254.90 351.00,256.00 351.67,256.00 351.67,257.00 352.33,257.00 352.33,258.00 353.00,258.00 353.00,259.00 353.50,259.00 353.50,260.00 354.00,260.00 354.00,261.00 354.50,261.00 354.50,262.00 355.00,262.00 355.00,263.00 355.25,263.00 355.25,264.00 355.50,264.00 355.50,265.00 356.75,265.00 356.75,266.00 358.00,266.00 358.00,267.00 359.50,267.00 359.50,268.00 361.00,268.00 361.00,269.00 362.50,269.00 362.50,270.00 364.00,270.00 364.00,271.00 365.00,271.00 365.00,272.00 366.00,272.00 366.00,273.00 367.50,273.00 367.50,274.25 369.00,274.25 369.00,275.50 372.00,275.50 372.00,276.50 375.00,276.50 375.00,277.20 376.50,277.20 376.50,278.35 378.00,278.35 378.00,279.50 378.50,279.50 378.50,280.50 379.00,280.50 379.00,281.50 379.50,281.50 379.50,282.50 380.00,282.50 380.00,283.50 380.67,283.50 380.67,284.67 381.33,284.67 381.33,285.83 382.00,285.83 382.00,287.00 382.67,287.00 382.67,288.00 383.33,288.00 383.33,289.00 384.00,289.00 384.00,290.00 384.67,290.00 384.67,291.17 385.33,291.17 385.33,292.33 386.00,292.33 386.00,293.50 387.00,293.50 387.00,294.75 388.00,294.75 388.00,296.00 388.67,296.00 388.67,297.00 389.33,297.00 389.33,298.00 390.00,298.00 390.00,299.00 391.50,299.00 391.50,300.25 393.00,300.25 393.00,301.50 393.75,301.50 393.75,302.50 394.50,302.50 394.50,303.50 395.25,303.50 395.25,304.50 396.00,304.50 396.00,305.50 397.00,305.50 397.00,306.75 398.00,306.75 398.00,308.00 398.50,308.00 398.50,309.00 399.00,309.00 399.00,310.00 399.50,310.00 399.50,311.00 400.00,311.00 400.00,312.00 401.00,312.00 401.00,313.00 402.00,313.00 402.00,314.00 403.00,314.00 403.00,315.00 403.67,315.00 403.67,316.00 404.33,316.00 404.33,317.00 405.00,317.00 405.00,318.00 406.00,318.00 406.00,319.00 407.00,319.00 407.00,320.00 408.50,320.00 408.50,320.90 410.00,320.90 410.00,321.80 413.00,321.80 413.00,323.20 413.67,323.20 413.67,324.47 414.33,324.47 414.33,325.73 415.00,325.73 415.00,327.00 416.00,327.00 416.00,328.00 417.00,328.00 417.00,329.00 420.00,329.00 420.00,330.50 423.00,330.50 423.00,332.00 424.50,332.00 424.50,333.00 426.00,333.00 426.00,334.00 427.00,334.00 427.00,335.10 428.00,335.10 428.00,336.20 429.00,336.20 429.00,337.13 430.00,337.13 430.00,338.07 431.00,338.07 431.00,339.00 433.00,339.00 433.00,340.50 435.00,340.50 435.00,341.75 437.00,341.75 437.00,343.00 439.00,343.00 439.00,344.00 441.00,344.00 441.00,345.00 441.67,345.00 441.67,346.00 442.33,346.00 442.33,347.00 443.00,347.00 443.00,348.00 444.00,348.00 444.00,349.00 445.00,349.00 445.00,350.00 446.00,350.00 446.00,351.00 448.00,351.00 448.00,352.00 450.00,352.00 450.00,353.00 451.33,353.00 451.33,354.00 452.67,354.00 452.67,355.00 454.00,355.00 454.00,356.00 454.67,356.00 454.67,357.00 455.33,357.00 455.33,358.00 456.00,358.00 456.00,359.00 456.67,359.00 456.67,360.17 457.33,360.17 457.33,361.33 458.00,361.33 458.00,362.50 459.50,362.50 459.50,363.50 461.00,363.50 461.00,364.50 468.50,364.50 468.50,365.00 468.63,365.00 468.63,365.97 468.77,365.97 468.77,366.93 468.90,366.93 468.90,367.90 475.00,367.90 475.00,368.20 475.15,368.20 475.15,369.20 475.30,369.20 475.30,370.20 475.43,370.20 475.43,371.27 475.57,371.27 475.57,372.33 475.70,372.33 475.70,373.40 503.30,373.40" fill="none" stroke="#14548f" stroke-width="1.5" stroke-linejoin="round"/>
<line x1="421.0" y1="329.6" x2="421.0" y2="332.4" stroke="#14548f" stroke-width="0.75"/>
<line x1="426.0" y1="332.6" x2="426.0" y2="335.4" stroke="#14548f" stroke-width="0.75"/>
<line x1="430.0" y1="336.7" x2="430.0" y2="339.5" stroke="#14548f" stroke-width="0.75"/>
<line x1="434.0" y1="339.7" x2="434.0" y2="342.5" stroke="#14548f" stroke-width="0.75"/>
<line x1="437.5" y1="341.9" x2="437.5" y2="344.6" stroke="#14548f" stroke-width="0.75"/>
<line x1="441.0" y1="343.6" x2="441.0" y2="346.4" stroke="#14548f" stroke-width="0.75"/>
<line x1="446.0" y1="349.6" x2="446.0" y2="352.4" stroke="#14548f" stroke-width="0.75"/>
<line x1="450.0" y1="351.6" x2="450.0" y2="354.4" stroke="#14548f" stroke-width="0.75"/>
<line x1="454.0" y1="354.6" x2="454.0" y2="357.4" stroke="#14548f" stroke-width="0.75"/>
<line x1="457.5" y1="360.2" x2="457.5" y2="363.0" stroke="#14548f" stroke-width="0.75"/>
<line x1="462.5" y1="363.2" x2="462.5" y2="366.0" stroke="#14548f" stroke-width="0.75"/>
<line x1="467.5" y1="363.5" x2="467.5" y2="366.3" stroke="#14548f" stroke-width="0.75"/>
<line x1="471.0" y1="366.6" x2="471.0" y2="369.4" stroke="#14548f" stroke-width="0.75"/>
<line x1="478.0" y1="372.0" x2="478.0" y2="374.8" stroke="#14548f" stroke-width="0.75"/>
<line x1="481.0" y1="372.0" x2="481.0" y2="374.8" stroke="#14548f" stroke-width="0.75"/>
<line x1="484.0" y1="372.0" x2="484.0" y2="374.8" stroke="#14548f" stroke-width="0.75"/>
<line x1="487.0" y1="372.0" x2="487.0" y2="374.8" stroke="#14548f" stroke-width="0.75"/>
<line x1="490.0" y1="372.0" x2="490.0" y2="374.8" stroke="#14548f" stroke-width="0.75"/>
<line x1="493.0" y1="372.0" x2="493.0" y2="374.8" stroke="#14548f" stroke-width="0.75"/>
<line x1="496.0" y1="372.0" x2="496.0" y2="374.8" stroke="#14548f" stroke-width="0.75"/>
<line x1="499.0" y1="372.0" x2="499.0" y2="374.8" stroke="#14548f" stroke-width="0.75"/>
<line x1="502.0" y1="372.0" x2="502.0" y2="374.8" stroke="#14548f" stroke-width="0.75"/>
<line x1="67" y1="472.3" x2="67" y2="642.4" stroke="#1e1e1e" stroke-width="1.5"/>
<line x1="66.4" y1="641.8" x2="236" y2="641.8" stroke="#1e1e1e" stroke-width="1.5"/>
<line x1="63.7" y1="480.6" x2="67" y2="480.6" stroke="#1e1e1e" stroke-width="1.0"/>
<text x="60.8" y="483.3" font-size="8.7" text-anchor="end" font-weight="normal" fill="#1a1a1a" textLength="15.3" lengthAdjust="spacingAndGlyphs">1.00</text>
<line x1="63.7" y1="519.325" x2="67" y2="519.325" stroke="#1e1e1e" stroke-width="1.0"/>
<text x="60.8" y="522.0250000000001" font-size="8.7" text-anchor="end" font-weight="normal" fill="#1a1a1a" textLength="15.3" lengthAdjust="spacingAndGlyphs">0.75</text>
<line x1="63.7" y1="558.05" x2="67" y2="558.05" stroke="#1e1e1e" stroke-width="1.0"/>
<text x="60.8" y="560.75" font-size="8.7" text-anchor="end" font-weight="normal" fill="#1a1a1a" textLength="15.3" lengthAdjust="spacingAndGlyphs">0.50</text>
<line x1="63.7" y1="596.775" x2="67" y2="596.775" stroke="#1e1e1e" stroke-width="1.0"/>
<text x="60.8" y="599.475" font-size="8.7" text-anchor="end" font-weight="normal" fill="#1a1a1a" textLength="15.3" lengthAdjust="spacingAndGlyphs">0.25</text>
<line x1="63.7" y1="635.5" x2="67" y2="635.5" stroke="#1e1e1e" stroke-width="1.0"/>
<text x="60.8" y="638.2" font-size="8.7" text-anchor="end" font-weight="normal" fill="#1a1a1a" textLength="15.3" lengthAdjust="spacingAndGlyphs">0.00</text>
<line x1="74.4" y1="641.8" x2="74.4" y2="645.0999999999999" stroke="#1e1e1e" stroke-width="1.0"/>
<text x="74.4" y="653.8" font-size="8.6" text-anchor="middle" font-weight="normal" fill="#1a1a1a" textLength="4.4" lengthAdjust="spacingAndGlyphs">0</text>
<line x1="100.33000000000001" y1="641.8" x2="100.33000000000001" y2="645.0999999999999" stroke="#1e1e1e" stroke-width="1.0"/>
<text x="100.33000000000001" y="653.8" font-size="8.6" text-anchor="middle" font-weight="normal" fill="#1a1a1a" textLength="8.3" lengthAdjust="spacingAndGlyphs">10</text>
<line x1="126.26" y1="641.8" x2="126.26" y2="645.0999999999999" stroke="#1e1e1e" stroke-width="1.0"/>
<text x="126.26" y="653.8" font-size="8.6" text-anchor="middle" font-weight="normal" fill="#1a1a1a" textLength="8.3" lengthAdjust="spacingAndGlyphs">20</text>
<line x1="152.19" y1="641.8" x2="152.19" y2="645.0999999999999" stroke="#1e1e1e" stroke-width="1.0"/>
<text x="152.19" y="653.8" font-size="8.6" text-anchor="middle" font-weight="normal" fill="#1a1a1a" textLength="8.3" lengthAdjust="spacingAndGlyphs">30</text>
<line x1="178.12" y1="641.8" x2="178.12" y2="645.0999999999999" stroke="#1e1e1e" stroke-width="1.0"/>
<text x="178.12" y="653.8" font-size="8.6" text-anchor="middle" font-weight="normal" fill="#1a1a1a" textLength="8.3" lengthAdjust="spacingAndGlyphs">40</text>
<line x1="204.05" y1="641.8" x2="204.05" y2="645.0999999999999" stroke="#1e1e1e" stroke-width="1.0"/>
<text x="204.05" y="653.8" font-size="8.6" text-anchor="middle" font-weight="normal" fill="#1a1a1a" textLength="8.3" lengthAdjust="spacingAndGlyphs">50</text>
<line x1="229.98" y1="641.8" x2="229.98" y2="645.0999999999999" stroke="#1e1e1e" stroke-width="1.0"/>
<text x="229.98" y="653.8" font-size="8.6" text-anchor="middle" font-weight="normal" fill="#1a1a1a" textLength="8.3" lengthAdjust="spacingAndGlyphs">60</text>
<text transform="translate(40.2 557.5999999999999) rotate(-90)" x="0" y="0" font-size="8.6" text-anchor="middle" fill="#1a1a1a" class="ax" textLength="53.6" lengthAdjust="spacingAndGlyphs">Survival probability</text>
<text x="129.6" y="666.1" font-size="8.5" text-anchor="start" font-weight="normal" fill="#1a1a1a" textLength="41.2" lengthAdjust="spacingAndGlyphs" class="ax">Time (months)</text>
<text x="113.7" y="474.1" font-size="9" text-anchor="start" font-weight="normal" fill="#1a1a1a" textLength="50.5" lengthAdjust="spacingAndGlyphs">SORT1 (OS)</text>
<text x="189.0" y="502.5" font-size="6.8" text-anchor="start" font-weight="normal" fill="#1a1a1a" textLength="21.2" lengthAdjust="spacingAndGlyphs">n = 48</text>
<text x="193.3" y="575.6" font-size="6.8" text-anchor="start" font-weight="normal" fill="#1a1a1a" textLength="24.8" lengthAdjust="spacingAndGlyphs">n = 153</text>
<path d="M75.50 620.40H84.10M79.80 616.20V624.60" stroke="#c8102e" stroke-width="1.5" fill="none"/>
<path d="M75.50 631.30H84.10M79.80 627.10V635.50" stroke="#14548f" stroke-width="1.5" fill="none"/>
<text x="86.8" y="622.65" font-size="7.6" text-anchor="start" font-weight="normal" fill="#1a1a1a" textLength="48.9" lengthAdjust="spacingAndGlyphs">High expression</text>
<text x="86.8" y="633.4499999999999" font-size="7.6" text-anchor="start" font-weight="normal" fill="#1a1a1a" textLength="48.0" lengthAdjust="spacingAndGlyphs">Low expression</text>
<text x="75.8" y="608.5" font-size="7.0" text-anchor="start" font-weight="normal" fill="#1a1a1a" textLength="26.8" lengthAdjust="spacingAndGlyphs">p = .014</text>
<polyline points="67.40,485.50 69.00,485.50 69.00,486.20 70.50,486.20 70.50,487.00 71.25,487.00 71.25,488.00 72.00,488.00 72.00,489.00 72.33,489.00 72.33,490.00 72.67,490.00 72.67,491.00 73.00,491.00 73.00,492.00 73.75,492.00 73.75,493.00 74.50,493.00 74.50,494.00 75.00,494.00 75.00,495.25 75.50,495.25 75.50,496.50 75.83,496.50 75.83,497.67 76.17,497.67 76.17,498.83 76.50,498.83 76.50,500.00 76.90,500.00 76.90,501.00 77.30,501.00 77.30,502.00 80.00,502.00 80.00,502.60 83.00,502.60 83.00,503.60 84.50,503.60 84.50,504.55 86.00,504.55 86.00,505.50 87.00,505.50 87.00,506.50 88.00,506.50 88.00,507.50 91.00,507.50 91.00,508.50 95.00,508.50 95.00,509.10 98.00,509.10 98.00,510.60 99.00,510.60 99.00,511.80 100.00,511.80 100.00,513.00 101.00,513.00 101.00,514.00 102.00,514.00 102.00,515.00 104.00,515.00 104.00,516.20 105.00,516.20 105.00,517.13 106.00,517.13 106.00,518.07 107.00,518.07 107.00,519.00 108.50,519.00 108.50,520.00 110.00,520.00 110.00,521.00 112.00,521.00 112.00,522.00 114.00,522.00 114.00,523.00 114.67,523.00 114.67,524.17 115.33,524.17 115.33,525.33 116.00,525.33 116.00,526.50 119.00,526.50 119.00,528.00 122.00,528.00 122.00,529.50 128.00,529.50 128.00,529.60 129.00,529.60 129.00,530.80 130.00,530.80 130.00,532.00 137.00,532.00 137.00,533.00 138.00,533.00 138.00,534.00 139.00,534.00 139.00,535.00 139.25,535.00 139.25,536.00 139.50,536.00 139.50,537.00 139.75,537.00 139.75,538.00 140.00,538.00 140.00,539.00 142.00,539.00 142.00,540.50 146.00,540.50 146.00,541.00 151.00,541.00 151.00,541.60 151.50,541.60 151.50,542.70 152.00,542.70 152.00,543.80 155.00,543.80 155.00,545.30 159.00,545.30 159.00,546.40 159.50,546.40 159.50,547.70 160.00,547.70 160.00,549.00 161.50,549.00 161.50,550.00 163.00,550.00 163.00,551.00 165.00,551.00 165.00,552.20 179.30,552.20 179.44,552.20 179.44,553.24 179.58,553.24 179.58,554.28 179.72,554.28 179.72,555.32 179.86,555.32 179.86,556.36 180.00,556.36 180.00,557.40 219.20,557.40" fill="none" stroke="#c8102e" stroke-width="1.6" stroke-linejoin="round"/>
<line x1="182.0" y1="556.0" x2="182.0" y2="558.8" stroke="#c8102e" stroke-width="0.75"/>
<line x1="186.0" y1="556.0" x2="186.0" y2="558.8" stroke="#c8102e" stroke-width="0.75"/>
<line x1="190.0" y1="556.0" x2="190.0" y2="558.8" stroke="#c8102e" stroke-width="0.75"/>
<line x1="194.0" y1="556.0" x2="194.0" y2="558.8" stroke="#c8102e" stroke-width="0.75"/>
<line x1="198.0" y1="556.0" x2="198.0" y2="558.8" stroke="#c8102e" stroke-width="0.75"/>
<line x1="202.0" y1="556.0" x2="202.0" y2="558.8" stroke="#c8102e" stroke-width="0.75"/>
<line x1="206.0" y1="556.0" x2="206.0" y2="558.8" stroke="#c8102e" stroke-width="0.75"/>
<line x1="210.0" y1="556.0" x2="210.0" y2="558.8" stroke="#c8102e" stroke-width="0.75"/>
<line x1="214.0" y1="556.0" x2="214.0" y2="558.8" stroke="#c8102e" stroke-width="0.75"/>
<line x1="217.5" y1="556.0" x2="217.5" y2="558.8" stroke="#c8102e" stroke-width="0.75"/>
<line x1="167.0" y1="550.8" x2="167.0" y2="553.6" stroke="#c8102e" stroke-width="0.75"/>
<line x1="170.0" y1="550.8" x2="170.0" y2="553.6" stroke="#c8102e" stroke-width="0.75"/>
<line x1="173.0" y1="550.8" x2="173.0" y2="553.6" stroke="#c8102e" stroke-width="0.75"/>
<line x1="176.0" y1="550.8" x2="176.0" y2="553.6" stroke="#c8102e" stroke-width="0.75"/>
<line x1="181.5" y1="550.8" x2="181.5" y2="553.6" stroke="#c8102e" stroke-width="0.75"/>
<polyline points="67.60,485.40 68.30,485.40 68.30,484.40 74.50,484.40 74.50,487.30 90.80,487.30 90.80,490.30 98.20,490.30 98.20,493.70 113.40,493.70 113.40,500.10 116.80,500.10 116.80,503.10 124.80,503.10 124.80,506.30 127.70,506.30 127.70,510.40 139.60,510.40 139.60,513.90 142.60,513.90 142.60,517.70 204.60,517.70" fill="none" stroke="#14548f" stroke-width="1.5" stroke-linejoin="round"/>
<line x1="146.0" y1="516.3" x2="146.0" y2="519.1" stroke="#14548f" stroke-width="0.75"/>
<line x1="148.5" y1="516.3" x2="148.5" y2="519.1" stroke="#14548f" stroke-width="0.75"/>
<line x1="151.0" y1="516.3" x2="151.0" y2="519.1" stroke="#14548f" stroke-width="0.75"/>
<line x1="154.0" y1="516.3" x2="154.0" y2="519.1" stroke="#14548f" stroke-width="0.75"/>
<line x1="157.0" y1="516.3" x2="157.0" y2="519.1" stroke="#14548f" stroke-width="0.75"/>
<line x1="160.0" y1="516.3" x2="160.0" y2="519.1" stroke="#14548f" stroke-width="0.75"/>
<line x1="163.0" y1="516.3" x2="163.0" y2="519.1" stroke="#14548f" stroke-width="0.75"/>
<line x1="166.0" y1="516.3" x2="166.0" y2="519.1" stroke="#14548f" stroke-width="0.75"/>
<line x1="169.0" y1="516.3" x2="169.0" y2="519.1" stroke="#14548f" stroke-width="0.75"/>
<line x1="172.0" y1="516.3" x2="172.0" y2="519.1" stroke="#14548f" stroke-width="0.75"/>
<line x1="175.0" y1="516.3" x2="175.0" y2="519.1" stroke="#14548f" stroke-width="0.75"/>
<line x1="178.0" y1="516.3" x2="178.0" y2="519.1" stroke="#14548f" stroke-width="0.75"/>
<line x1="181.0" y1="516.3" x2="181.0" y2="519.1" stroke="#14548f" stroke-width="0.75"/>
<line x1="184.0" y1="516.3" x2="184.0" y2="519.1" stroke="#14548f" stroke-width="0.75"/>
<line x1="188.0" y1="516.3" x2="188.0" y2="519.1" stroke="#14548f" stroke-width="0.75"/>
<line x1="192.0" y1="516.3" x2="192.0" y2="519.1" stroke="#14548f" stroke-width="0.75"/>
<line x1="196.0" y1="516.3" x2="196.0" y2="519.1" stroke="#14548f" stroke-width="0.75"/>
<line x1="200.0" y1="516.3" x2="200.0" y2="519.1" stroke="#14548f" stroke-width="0.75"/>
<line x1="204.0" y1="516.3" x2="204.0" y2="519.1" stroke="#14548f" stroke-width="0.75"/>
<line x1="344.0" y1="472.5" x2="344.0" y2="642.4" stroke="#1e1e1e" stroke-width="1.5"/>
<line x1="343.4" y1="641.8" x2="513.6" y2="641.8" stroke="#1e1e1e" stroke-width="1.5"/>
<line x1="340.7" y1="482.1" x2="344.0" y2="482.1" stroke="#1e1e1e" stroke-width="1.0"/>
<text x="338.2" y="484.8" font-size="8.7" text-anchor="end" font-weight="normal" fill="#1a1a1a" textLength="15.3" lengthAdjust="spacingAndGlyphs">1.00</text>
<line x1="340.7" y1="520.825" x2="344.0" y2="520.825" stroke="#1e1e1e" stroke-width="1.0"/>
<text x="338.2" y="523.5250000000001" font-size="8.7" text-anchor="end" font-weight="normal" fill="#1a1a1a" textLength="15.3" lengthAdjust="spacingAndGlyphs">0.75</text>
<line x1="340.7" y1="559.55" x2="344.0" y2="559.55" stroke="#1e1e1e" stroke-width="1.0"/>
<text x="338.2" y="562.25" font-size="8.7" text-anchor="end" font-weight="normal" fill="#1a1a1a" textLength="15.3" lengthAdjust="spacingAndGlyphs">0.50</text>
<line x1="340.7" y1="598.275" x2="344.0" y2="598.275" stroke="#1e1e1e" stroke-width="1.0"/>
<text x="338.2" y="600.975" font-size="8.7" text-anchor="end" font-weight="normal" fill="#1a1a1a" textLength="15.3" lengthAdjust="spacingAndGlyphs">0.25</text>
<line x1="340.7" y1="637.0" x2="344.0" y2="637.0" stroke="#1e1e1e" stroke-width="1.0"/>
<text x="338.2" y="639.7" font-size="8.7" text-anchor="end" font-weight="normal" fill="#1a1a1a" textLength="15.3" lengthAdjust="spacingAndGlyphs">0.00</text>
<line x1="351.1" y1="641.8" x2="351.1" y2="645.0999999999999" stroke="#1e1e1e" stroke-width="1.0"/>
<text x="351.1" y="653.8" font-size="8.6" text-anchor="middle" font-weight="normal" fill="#1a1a1a" textLength="4.4" lengthAdjust="spacingAndGlyphs">0</text>
<line x1="377.0" y1="641.8" x2="377.0" y2="645.0999999999999" stroke="#1e1e1e" stroke-width="1.0"/>
<text x="377.0" y="653.8" font-size="8.6" text-anchor="middle" font-weight="normal" fill="#1a1a1a" textLength="8.3" lengthAdjust="spacingAndGlyphs">10</text>
<line x1="402.90000000000003" y1="641.8" x2="402.90000000000003" y2="645.0999999999999" stroke="#1e1e1e" stroke-width="1.0"/>
<text x="402.90000000000003" y="653.8" font-size="8.6" text-anchor="middle" font-weight="normal" fill="#1a1a1a" textLength="8.3" lengthAdjust="spacingAndGlyphs">20</text>
<line x1="428.8" y1="641.8" x2="428.8" y2="645.0999999999999" stroke="#1e1e1e" stroke-width="1.0"/>
<text x="428.8" y="653.8" font-size="8.6" text-anchor="middle" font-weight="normal" fill="#1a1a1a" textLength="8.3" lengthAdjust="spacingAndGlyphs">30</text>
<line x1="454.70000000000005" y1="641.8" x2="454.70000000000005" y2="645.0999999999999" stroke="#1e1e1e" stroke-width="1.0"/>
<text x="454.70000000000005" y="653.8" font-size="8.6" text-anchor="middle" font-weight="normal" fill="#1a1a1a" textLength="8.3" lengthAdjust="spacingAndGlyphs">40</text>
<line x1="480.6" y1="641.8" x2="480.6" y2="645.0999999999999" stroke="#1e1e1e" stroke-width="1.0"/>
<text x="480.6" y="653.8" font-size="8.6" text-anchor="middle" font-weight="normal" fill="#1a1a1a" textLength="8.3" lengthAdjust="spacingAndGlyphs">50</text>
<line x1="506.5" y1="641.8" x2="506.5" y2="645.0999999999999" stroke="#1e1e1e" stroke-width="1.0"/>
<text x="506.5" y="653.8" font-size="8.6" text-anchor="middle" font-weight="normal" fill="#1a1a1a" textLength="8.3" lengthAdjust="spacingAndGlyphs">60</text>
<text transform="translate(317.2 558.8) rotate(-90)" x="0" y="0" font-size="8.6" text-anchor="middle" fill="#1a1a1a" class="ax" textLength="52.4" lengthAdjust="spacingAndGlyphs">Survival probability</text>
<text x="408.1" y="665.8" font-size="8.5" text-anchor="start" font-weight="normal" fill="#1a1a1a" textLength="40.9" lengthAdjust="spacingAndGlyphs" class="ax">Time (months)</text>
<text x="390.1" y="474.1" font-size="9" text-anchor="start" font-weight="normal" fill="#1a1a1a" textLength="53.2" lengthAdjust="spacingAndGlyphs">SORT1 (PFS)</text>
<text x="459.0" y="504.1" font-size="6.8" text-anchor="start" font-weight="normal" fill="#1a1a1a" textLength="21.2" lengthAdjust="spacingAndGlyphs">n = 48</text>
<text x="478.7" y="581.2" font-size="6.8" text-anchor="start" font-weight="normal" fill="#1a1a1a" textLength="24.9" lengthAdjust="spacingAndGlyphs">n = 153</text>
<path d="M352.00 622.30H360.60M356.30 618.10V626.50" stroke="#c8102e" stroke-width="1.5" fill="none"/>
<path d="M352.00 633.20H360.60M356.30 629.00V637.40" stroke="#14548f" stroke-width="1.5" fill="none"/>
<text x="363.1" y="624.55" font-size="7.6" text-anchor="start" font-weight="normal" fill="#1a1a1a" textLength="48.4" lengthAdjust="spacingAndGlyphs">High expression</text>
<text x="363.1" y="635.35" font-size="7.6" text-anchor="start" font-weight="normal" fill="#1a1a1a" textLength="47.5" lengthAdjust="spacingAndGlyphs">Low expression</text>
<text x="352.1" y="609.8" font-size="7.0" text-anchor="start" font-weight="normal" fill="#1a1a1a" textLength="26.7" lengthAdjust="spacingAndGlyphs">p = .017</text>
<polyline points="349.80,477.00 351.50,477.00 351.50,478.60 352.00,478.60 352.00,479.45 352.50,479.45 352.50,480.30 354.00,480.30 354.00,481.50 354.50,481.50 354.50,482.50 355.00,482.50 355.00,483.50 355.10,483.50 355.10,484.50 355.20,484.50 355.20,485.50 355.30,485.50 355.30,486.50 355.40,486.50 355.40,487.50 355.95,487.50 355.95,488.50 356.50,488.50 356.50,489.50 356.67,489.50 356.67,490.67 356.83,490.67 356.83,491.83 357.00,491.83 357.00,493.00 357.33,493.00 357.33,494.00 357.67,494.00 357.67,495.00 358.00,495.00 358.00,496.00 359.50,496.00 359.50,497.00 361.00,497.00 361.00,498.00 363.00,498.00 363.00,499.00 365.00,499.00 365.00,500.00 365.67,500.00 365.67,501.00 366.33,501.00 366.33,502.00 367.00,502.00 367.00,503.00 368.50,503.00 368.50,504.00 370.00,504.00 370.00,505.00 371.00,505.00 371.00,505.93 372.00,505.93 372.00,506.87 373.00,506.87 373.00,507.80 374.00,507.80 374.00,508.87 375.00,508.87 375.00,509.93 376.00,509.93 376.00,511.00 376.50,511.00 376.50,512.00 377.00,512.00 377.00,513.00 377.50,513.00 377.50,514.00 378.00,514.00 378.00,515.00 379.00,515.00 379.00,516.00 380.00,516.00 380.00,517.00 383.00,517.00 383.00,518.00 384.00,518.00 384.00,519.00 385.00,519.00 385.00,520.00 386.50,520.00 386.50,521.00 388.00,521.00 388.00,522.00 393.00,522.00 393.00,522.20 393.67,522.20 393.67,523.13 394.33,523.13 394.33,524.07 395.00,524.07 395.00,525.00 396.00,525.00 396.00,526.00 397.00,526.00 397.00,527.00 398.00,527.00 398.00,528.00 402.00,528.00 402.00,529.00 403.00,529.00 403.00,530.25 404.00,530.25 404.00,531.50 404.33,531.50 404.33,532.67 404.67,532.67 404.67,533.83 405.00,533.83 405.00,535.00 406.00,535.00 406.00,536.25 407.00,536.25 407.00,537.50 414.00,537.50 414.00,537.60 414.67,537.60 414.67,538.73 415.33,538.73 415.33,539.87 416.00,539.87 416.00,541.00 417.00,541.00 417.00,542.00 418.00,542.00 418.00,543.00 419.00,543.00 419.00,544.00 421.90,544.00 421.90,545.50 421.93,545.50 421.93,546.73 421.97,546.73 421.97,547.97 422.00,547.97 422.00,549.20 427.70,549.20 427.70,549.40 427.75,549.40 427.75,550.30 427.80,550.30 427.80,551.20 429.60,551.20 429.60,551.30 429.62,551.30 429.62,552.42 429.64,552.42 429.64,553.54 429.66,553.54 429.66,554.66 429.68,554.66 429.68,555.78 429.70,555.78 429.70,556.90 432.50,556.90 432.50,557.00 432.55,557.00 432.55,558.10 432.60,558.10 432.60,559.20 438.30,559.20 438.30,559.30 438.33,559.30 438.33,560.30 438.37,560.30 438.37,561.30 438.40,561.30 438.40,562.30 513.30,562.30" fill="none" stroke="#c8102e" stroke-width="1.6" stroke-linejoin="round"/>
<line x1="440.0" y1="560.9" x2="440.0" y2="563.7" stroke="#c8102e" stroke-width="0.75"/>
<line x1="441.5" y1="560.9" x2="441.5" y2="563.7" stroke="#c8102e" stroke-width="0.75"/>
<line x1="443.0" y1="560.9" x2="443.0" y2="563.7" stroke="#c8102e" stroke-width="0.75"/>
<line x1="444.5" y1="560.9" x2="444.5" y2="563.7" stroke="#c8102e" stroke-width="0.75"/>
<line x1="446.0" y1="560.9" x2="446.0" y2="563.7" stroke="#c8102e" stroke-width="0.75"/>
<line x1="448.0" y1="560.9" x2="448.0" y2="563.7" stroke="#c8102e" stroke-width="0.75"/>
<line x1="454.0" y1="560.9" x2="454.0" y2="563.7" stroke="#c8102e" stroke-width="0.75"/>
<line x1="456.0" y1="560.9" x2="456.0" y2="563.7" stroke="#c8102e" stroke-width="0.75"/>
<line x1="459.0" y1="560.9" x2="459.0" y2="563.7" stroke="#c8102e" stroke-width="0.75"/>
<line x1="469.0" y1="560.9" x2="469.0" y2="563.7" stroke="#c8102e" stroke-width="0.75"/>
<line x1="471.0" y1="560.9" x2="471.0" y2="563.7" stroke="#c8102e" stroke-width="0.75"/>
<line x1="473.0" y1="560.9" x2="473.0" y2="563.7" stroke="#c8102e" stroke-width="0.75"/>
<line x1="475.0" y1="560.9" x2="475.0" y2="563.7" stroke="#c8102e" stroke-width="0.75"/>
<line x1="484.0" y1="560.9" x2="484.0" y2="563.7" stroke="#c8102e" stroke-width="0.75"/>
<line x1="486.0" y1="560.9" x2="486.0" y2="563.7" stroke="#c8102e" stroke-width="0.75"/>
<line x1="490.0" y1="560.9" x2="490.0" y2="563.7" stroke="#c8102e" stroke-width="0.75"/>
<polyline points="349.50,478.10 357.70,478.10 357.70,481.30 372.30,481.30 372.30,485.00 374.60,485.00 374.60,489.00 380.30,489.00 380.30,493.10 381.50,493.10 381.50,497.50 384.20,497.50 384.20,501.90 385.60,501.90 385.60,506.00 387.10,506.00 387.10,509.90 413.20,509.90 413.20,515.90 473.10,515.90" fill="none" stroke="#14548f" stroke-width="1.5" stroke-linejoin="round"/>
<line x1="349.5" y1="474.9" x2="349.5" y2="478.3" stroke="#14548f" stroke-width="0.75"/>
<line x1="362.0" y1="479.9" x2="362.0" y2="482.7" stroke="#14548f" stroke-width="0.75"/>
<line x1="365.0" y1="479.9" x2="365.0" y2="482.7" stroke="#14548f" stroke-width="0.75"/>
<line x1="368.0" y1="479.9" x2="368.0" y2="482.7" stroke="#14548f" stroke-width="0.75"/>
<line x1="371.0" y1="479.9" x2="371.0" y2="482.7" stroke="#14548f" stroke-width="0.75"/>
<line x1="393.0" y1="508.5" x2="393.0" y2="511.3" stroke="#14548f" stroke-width="0.75"/>
<line x1="398.0" y1="508.5" x2="398.0" y2="511.3" stroke="#14548f" stroke-width="0.75"/>
<line x1="402.0" y1="508.5" x2="402.0" y2="511.3" stroke="#14548f" stroke-width="0.75"/>
<line x1="405.0" y1="508.5" x2="405.0" y2="511.3" stroke="#14548f" stroke-width="0.75"/>
<line x1="409.0" y1="508.5" x2="409.0" y2="511.3" stroke="#14548f" stroke-width="0.75"/>
<line x1="416.0" y1="514.5" x2="416.0" y2="517.3" stroke="#14548f" stroke-width="0.75"/>
<line x1="420.0" y1="514.5" x2="420.0" y2="517.3" stroke="#14548f" stroke-width="0.75"/>
<line x1="423.0" y1="514.5" x2="423.0" y2="517.3" stroke="#14548f" stroke-width="0.75"/>
<line x1="426.0" y1="514.5" x2="426.0" y2="517.3" stroke="#14548f" stroke-width="0.75"/>
<line x1="429.0" y1="514.5" x2="429.0" y2="517.3" stroke="#14548f" stroke-width="0.75"/>
<line x1="432.0" y1="514.5" x2="432.0" y2="517.3" stroke="#14548f" stroke-width="0.75"/>
<line x1="435.0" y1="514.5" x2="435.0" y2="517.3" stroke="#14548f" stroke-width="0.75"/>
<line x1="438.0" y1="514.5" x2="438.0" y2="517.3" stroke="#14548f" stroke-width="0.75"/>
<line x1="441.0" y1="514.5" x2="441.0" y2="517.3" stroke="#14548f" stroke-width="0.75"/>
<line x1="444.0" y1="514.5" x2="444.0" y2="517.3" stroke="#14548f" stroke-width="0.75"/>
<line x1="448.0" y1="514.5" x2="448.0" y2="517.3" stroke="#14548f" stroke-width="0.75"/>
<line x1="452.0" y1="514.5" x2="452.0" y2="517.3" stroke="#14548f" stroke-width="0.75"/>
<line x1="456.0" y1="514.5" x2="456.0" y2="517.3" stroke="#14548f" stroke-width="0.75"/>
<line x1="461.0" y1="514.5" x2="461.0" y2="517.3" stroke="#14548f" stroke-width="0.75"/>
<line x1="466.0" y1="514.5" x2="466.0" y2="517.3" stroke="#14548f" stroke-width="0.75"/>
<line x1="472.0" y1="514.5" x2="472.0" y2="517.3" stroke="#14548f" stroke-width="0.75"/>
<rect x="0.6" y="0.6" width="518.8" height="671.8" fill="none" stroke="#000" stroke-width="1.2"/>
</svg>
</body></html>
